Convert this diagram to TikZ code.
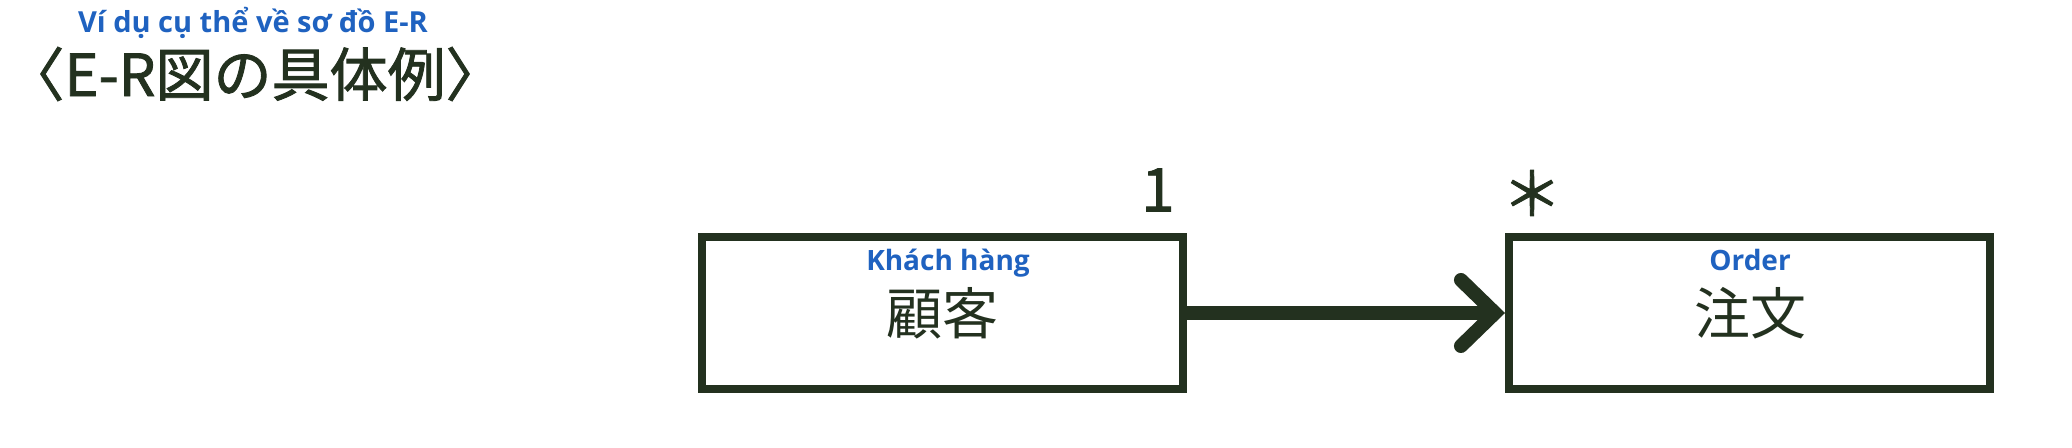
\documentclass[tikz,border=0pt]{standalone}
\usepackage{fontspec}
\setmainfont{Noto Sans CJK JP}
\newfontfamily\jpheavy{Noto Sans CJK JP}[FakeBold=1.5]
\newfontfamily\vnfont{Open Sans}
\usetikzlibrary{arrows.meta}
\definecolor{ink}{HTML}{23311F}
\definecolor{vnblue}{HTML}{1F62C0}
\begin{document}
\begin{tikzpicture}[x=0.5pt,y=-0.5pt,
  entity/.style={draw=ink,line width=4pt,minimum width=240.5pt,minimum height=76pt,inner sep=0pt},
  jp/.style={text=ink,inner sep=0pt,font=\fontsize{28}{30}\selectfont},
  vn/.style={text=vnblue,inner sep=0pt,font=\vnfont\bfseries\fontsize{14}{16}\selectfont},
  mult/.style={text=ink,inner sep=0pt,font=\jpheavy\fontsize{30}{32}\selectfont}]
\useasboundingbox (0,0) rectangle (2072,448);
% title
\node[jp,font=\jpheavy\fontsize{29}{31}\selectfont] (title) at (255,74) {〈E-R図の具体例〉};
\node[vn,font=\vnfont\bfseries\fontsize{14.5}{16}\selectfont] (titlevn) at (253,23) {Ví dụ cụ thể về sơ đồ E-R};

% entities
\node[entity] (kokyaku) at (942.5,313) {};
\node[entity] (chumon) at (1749.5,313) {};
\node[jp] (kokyakujp) at (942,313) {顧客};
\node[vn] (kokyakuvn) at (948,263) {Khách hàng};
\node[jp] (chumonjp) at (1750,313) {注文};
\node[vn] (chumonvn) at (1750,260) {Order};

% relation
\draw[ink,line width=7pt,-{Straight Barb[length=17pt,width=33pt,line cap=round]}] (kokyaku.east) -- (chumon.west);
\node[mult] (one) at (1158,190) {1};
\node[mult] (many) at (1532,193) {＊};
\end{tikzpicture}
\end{document}
